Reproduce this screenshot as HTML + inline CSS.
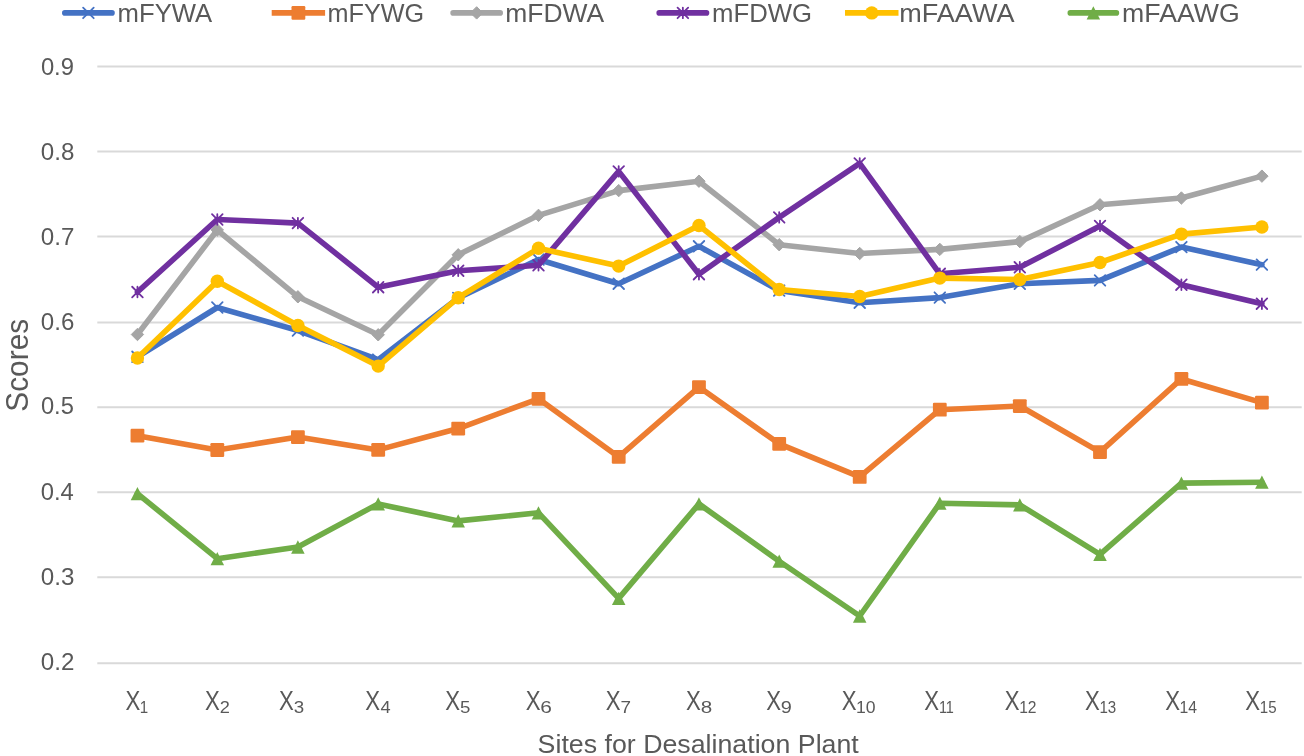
<!DOCTYPE html><html><head><meta charset="utf-8"><title>chart</title><style>html,body{margin:0;padding:0;background:#fff;overflow:hidden}svg{display:block;filter:blur(0.35px)}.t{filter:grayscale(1)}text,tspan{font-family:"Liberation Sans",sans-serif}</style></head><body>
<svg width="1304" height="756" viewBox="0 0 1304 756">
<rect width="1304" height="756" fill="#fff"/>
<line x1="97.3" y1="66.55" x2="1301.7" y2="66.55" stroke="#D9D9D9" stroke-width="2"/>
<line x1="97.3" y1="151.50" x2="1301.7" y2="151.50" stroke="#D9D9D9" stroke-width="2"/>
<line x1="97.3" y1="236.50" x2="1301.7" y2="236.50" stroke="#D9D9D9" stroke-width="2"/>
<line x1="97.3" y1="322.40" x2="1301.7" y2="322.40" stroke="#D9D9D9" stroke-width="2"/>
<line x1="97.3" y1="407.35" x2="1301.7" y2="407.35" stroke="#D9D9D9" stroke-width="2"/>
<line x1="97.3" y1="492.35" x2="1301.7" y2="492.35" stroke="#D9D9D9" stroke-width="2"/>
<line x1="97.3" y1="577.25" x2="1301.7" y2="577.25" stroke="#D9D9D9" stroke-width="2"/>
<line x1="97.3" y1="663.30" x2="1301.7" y2="663.30" stroke="#D9D9D9" stroke-width="2"/>
<text class="t" x="40.89" y="74.80" font-size="23.9" fill="#595959" textLength="33.08" lengthAdjust="spacingAndGlyphs">0.9</text>
<text class="t" x="40.87" y="159.75" font-size="23.9" fill="#595959" textLength="33.53" lengthAdjust="spacingAndGlyphs">0.8</text>
<text class="t" x="40.89" y="244.70" font-size="23.9" fill="#595959" textLength="33.57" lengthAdjust="spacingAndGlyphs">0.7</text>
<text class="t" x="40.86" y="329.55" font-size="23.9" fill="#595959" textLength="33.47" lengthAdjust="spacingAndGlyphs">0.6</text>
<text class="t" x="40.88" y="414.20" font-size="23.9" fill="#595959" textLength="32.96" lengthAdjust="spacingAndGlyphs">0.5</text>
<text class="t" x="40.73" y="500.30" font-size="23.9" fill="#595959" textLength="33.10" lengthAdjust="spacingAndGlyphs">0.4</text>
<text class="t" x="40.87" y="585.30" font-size="23.9" fill="#595959" textLength="33.58" lengthAdjust="spacingAndGlyphs">0.3</text>
<text class="t" x="40.89" y="670.30" font-size="23.9" fill="#595959" textLength="33.57" lengthAdjust="spacingAndGlyphs">0.2</text>
<text class="t" x="125.47" y="710.2" font-size="27" fill="#595959" textLength="14.8" lengthAdjust="spacingAndGlyphs">X</text>
<text class="t" x="139.87" y="712.8" font-size="16" fill="#595959" textLength="8.40" lengthAdjust="spacingAndGlyphs">1</text>
<text class="t" x="205.07" y="710.2" font-size="27" fill="#595959" textLength="14.8" lengthAdjust="spacingAndGlyphs">X</text>
<text class="t" x="219.79" y="712.8" font-size="16" fill="#595959" textLength="10.12" lengthAdjust="spacingAndGlyphs">2</text>
<text class="t" x="278.97" y="710.2" font-size="27" fill="#595959" textLength="14.8" lengthAdjust="spacingAndGlyphs">X</text>
<text class="t" x="293.67" y="712.8" font-size="16" fill="#595959" textLength="10.43" lengthAdjust="spacingAndGlyphs">3</text>
<text class="t" x="365.27" y="710.2" font-size="27" fill="#595959" textLength="14.8" lengthAdjust="spacingAndGlyphs">X</text>
<text class="t" x="380.43" y="712.8" font-size="16" fill="#595959" textLength="10.14" lengthAdjust="spacingAndGlyphs">4</text>
<text class="t" x="445.37" y="710.2" font-size="27" fill="#595959" textLength="14.8" lengthAdjust="spacingAndGlyphs">X</text>
<text class="t" x="459.97" y="712.8" font-size="16" fill="#595959" textLength="10.38" lengthAdjust="spacingAndGlyphs">5</text>
<text class="t" x="525.67" y="710.2" font-size="27" fill="#595959" textLength="14.8" lengthAdjust="spacingAndGlyphs">X</text>
<text class="t" x="540.24" y="712.8" font-size="16" fill="#595959" textLength="11.64" lengthAdjust="spacingAndGlyphs">6</text>
<text class="t" x="605.77" y="710.2" font-size="27" fill="#595959" textLength="14.8" lengthAdjust="spacingAndGlyphs">X</text>
<text class="t" x="620.44" y="712.8" font-size="16" fill="#595959" textLength="10.52" lengthAdjust="spacingAndGlyphs">7</text>
<text class="t" x="686.07" y="710.2" font-size="27" fill="#595959" textLength="14.8" lengthAdjust="spacingAndGlyphs">X</text>
<text class="t" x="700.72" y="712.8" font-size="16" fill="#595959" textLength="11.47" lengthAdjust="spacingAndGlyphs">8</text>
<text class="t" x="766.17" y="710.2" font-size="27" fill="#595959" textLength="14.8" lengthAdjust="spacingAndGlyphs">X</text>
<text class="t" x="780.80" y="712.8" font-size="16" fill="#595959" textLength="11.09" lengthAdjust="spacingAndGlyphs">9</text>
<text class="t" x="841.77" y="710.2" font-size="27" fill="#595959" textLength="14.8" lengthAdjust="spacingAndGlyphs">X</text>
<text class="t" x="855.97" y="712.8" font-size="16" fill="#595959" textLength="19.55" lengthAdjust="spacingAndGlyphs">10</text>
<text class="t" x="924.37" y="710.2" font-size="27" fill="#595959" textLength="14.8" lengthAdjust="spacingAndGlyphs">X</text>
<text class="t" x="938.90" y="712.8" font-size="16" fill="#595959" textLength="15.01" lengthAdjust="spacingAndGlyphs">11</text>
<text class="t" x="1004.77" y="710.2" font-size="27" fill="#595959" textLength="14.8" lengthAdjust="spacingAndGlyphs">X</text>
<text class="t" x="1019.13" y="712.8" font-size="16" fill="#595959" textLength="17.38" lengthAdjust="spacingAndGlyphs">12</text>
<text class="t" x="1085.07" y="710.2" font-size="27" fill="#595959" textLength="14.8" lengthAdjust="spacingAndGlyphs">X</text>
<text class="t" x="1099.47" y="712.8" font-size="16" fill="#595959" textLength="16.80" lengthAdjust="spacingAndGlyphs">13</text>
<text class="t" x="1165.27" y="710.2" font-size="27" fill="#595959" textLength="14.8" lengthAdjust="spacingAndGlyphs">X</text>
<text class="t" x="1179.62" y="712.8" font-size="16" fill="#595959" textLength="17.49" lengthAdjust="spacingAndGlyphs">14</text>
<text class="t" x="1245.37" y="710.2" font-size="27" fill="#595959" textLength="14.8" lengthAdjust="spacingAndGlyphs">X</text>
<text class="t" x="1259.77" y="712.8" font-size="16" fill="#595959" textLength="16.76" lengthAdjust="spacingAndGlyphs">15</text>
<text class="t" x="537.64" y="752.60" font-size="26" fill="#595959" textLength="321.15" lengthAdjust="spacingAndGlyphs">Sites for Desalination Plant</text>
<text class="t" transform="translate(27.80 411.71) rotate(-90)" x="0" y="0" font-size="31" fill="#595959" textLength="92.87" lengthAdjust="spacingAndGlyphs">Scores</text>
<polyline points="137.45,356.80 217.30,307.50 297.90,330.50 378.20,359.60 458.22,297.90 538.50,259.50 618.70,283.70 698.95,246.30 779.20,290.60 859.70,302.70 939.80,297.60 1019.80,283.80 1100.00,280.40 1181.40,247.10 1261.90,264.65" fill="none" stroke="#4472C4" stroke-width="5.6" stroke-linejoin="round" stroke-linecap="round"/>
<path d="M132.15 351.50L142.75 362.10M132.15 362.10L142.75 351.50" stroke="#4472C4" stroke-width="1.8" stroke-linecap="round" fill="none"/>
<path d="M212.00 302.20L222.60 312.80M212.00 312.80L222.60 302.20" stroke="#4472C4" stroke-width="1.8" stroke-linecap="round" fill="none"/>
<path d="M292.60 325.20L303.20 335.80M292.60 335.80L303.20 325.20" stroke="#4472C4" stroke-width="1.8" stroke-linecap="round" fill="none"/>
<path d="M372.90 354.30L383.50 364.90M372.90 364.90L383.50 354.30" stroke="#4472C4" stroke-width="1.8" stroke-linecap="round" fill="none"/>
<path d="M452.92 292.60L463.52 303.20M452.92 303.20L463.52 292.60" stroke="#4472C4" stroke-width="1.8" stroke-linecap="round" fill="none"/>
<path d="M533.20 254.20L543.80 264.80M533.20 264.80L543.80 254.20" stroke="#4472C4" stroke-width="1.8" stroke-linecap="round" fill="none"/>
<path d="M613.40 278.40L624.00 289.00M613.40 289.00L624.00 278.40" stroke="#4472C4" stroke-width="1.8" stroke-linecap="round" fill="none"/>
<path d="M693.65 241.00L704.25 251.60M693.65 251.60L704.25 241.00" stroke="#4472C4" stroke-width="1.8" stroke-linecap="round" fill="none"/>
<path d="M773.90 285.30L784.50 295.90M773.90 295.90L784.50 285.30" stroke="#4472C4" stroke-width="1.8" stroke-linecap="round" fill="none"/>
<path d="M854.40 297.40L865.00 308.00M854.40 308.00L865.00 297.40" stroke="#4472C4" stroke-width="1.8" stroke-linecap="round" fill="none"/>
<path d="M934.50 292.30L945.10 302.90M934.50 302.90L945.10 292.30" stroke="#4472C4" stroke-width="1.8" stroke-linecap="round" fill="none"/>
<path d="M1014.50 278.50L1025.10 289.10M1014.50 289.10L1025.10 278.50" stroke="#4472C4" stroke-width="1.8" stroke-linecap="round" fill="none"/>
<path d="M1094.70 275.10L1105.30 285.70M1094.70 285.70L1105.30 275.10" stroke="#4472C4" stroke-width="1.8" stroke-linecap="round" fill="none"/>
<path d="M1176.10 241.80L1186.70 252.40M1176.10 252.40L1186.70 241.80" stroke="#4472C4" stroke-width="1.8" stroke-linecap="round" fill="none"/>
<path d="M1256.60 259.35L1267.20 269.95M1256.60 269.95L1267.20 259.35" stroke="#4472C4" stroke-width="1.8" stroke-linecap="round" fill="none"/>
<polyline points="137.45,435.65 217.30,450.00 297.90,437.10 378.20,449.90 458.22,428.55 538.50,398.80 618.70,456.90 698.95,387.05 779.20,443.80 859.70,476.95 939.80,409.70 1019.80,406.05 1100.00,452.10 1181.40,378.95 1261.90,402.65" fill="none" stroke="#ED7D31" stroke-width="5.6" stroke-linejoin="round" stroke-linecap="butt"/>
<rect x="130.55" y="428.75" width="13.80" height="13.80" rx="1.2" fill="#ED7D31"/>
<rect x="210.40" y="443.10" width="13.80" height="13.80" rx="1.2" fill="#ED7D31"/>
<rect x="291.00" y="430.20" width="13.80" height="13.80" rx="1.2" fill="#ED7D31"/>
<rect x="371.30" y="443.00" width="13.80" height="13.80" rx="1.2" fill="#ED7D31"/>
<rect x="451.32" y="421.65" width="13.80" height="13.80" rx="1.2" fill="#ED7D31"/>
<rect x="531.60" y="391.90" width="13.80" height="13.80" rx="1.2" fill="#ED7D31"/>
<rect x="611.80" y="450.00" width="13.80" height="13.80" rx="1.2" fill="#ED7D31"/>
<rect x="692.05" y="380.15" width="13.80" height="13.80" rx="1.2" fill="#ED7D31"/>
<rect x="772.30" y="436.90" width="13.80" height="13.80" rx="1.2" fill="#ED7D31"/>
<rect x="852.80" y="470.05" width="13.80" height="13.80" rx="1.2" fill="#ED7D31"/>
<rect x="932.90" y="402.80" width="13.80" height="13.80" rx="1.2" fill="#ED7D31"/>
<rect x="1012.90" y="399.15" width="13.80" height="13.80" rx="1.2" fill="#ED7D31"/>
<rect x="1093.10" y="445.20" width="13.80" height="13.80" rx="1.2" fill="#ED7D31"/>
<rect x="1174.50" y="372.05" width="13.80" height="13.80" rx="1.2" fill="#ED7D31"/>
<rect x="1255.00" y="395.75" width="13.80" height="13.80" rx="1.2" fill="#ED7D31"/>
<polyline points="137.45,334.50 217.30,230.00 297.90,296.80 378.20,334.80 458.22,254.80 538.50,215.35 618.70,190.60 698.95,181.20 779.20,244.70 859.70,253.50 939.80,249.40 1019.80,241.60 1100.00,204.80 1181.40,198.00 1261.90,176.15" fill="none" stroke="#A5A5A5" stroke-width="5.6" stroke-linejoin="round" stroke-linecap="round"/>
<path d="M137.45 328.30L143.65 334.50L137.45 340.70L131.25 334.50Z" fill="#A5A5A5" stroke="#A5A5A5" stroke-width="1" stroke-linejoin="round"/>
<path d="M217.30 223.80L223.50 230.00L217.30 236.20L211.10 230.00Z" fill="#A5A5A5" stroke="#A5A5A5" stroke-width="1" stroke-linejoin="round"/>
<path d="M297.90 290.60L304.10 296.80L297.90 303.00L291.70 296.80Z" fill="#A5A5A5" stroke="#A5A5A5" stroke-width="1" stroke-linejoin="round"/>
<path d="M378.20 328.60L384.40 334.80L378.20 341.00L372.00 334.80Z" fill="#A5A5A5" stroke="#A5A5A5" stroke-width="1" stroke-linejoin="round"/>
<path d="M458.22 248.60L464.42 254.80L458.22 261.00L452.02 254.80Z" fill="#A5A5A5" stroke="#A5A5A5" stroke-width="1" stroke-linejoin="round"/>
<path d="M538.50 209.15L544.70 215.35L538.50 221.55L532.30 215.35Z" fill="#A5A5A5" stroke="#A5A5A5" stroke-width="1" stroke-linejoin="round"/>
<path d="M618.70 184.40L624.90 190.60L618.70 196.80L612.50 190.60Z" fill="#A5A5A5" stroke="#A5A5A5" stroke-width="1" stroke-linejoin="round"/>
<path d="M698.95 175.00L705.15 181.20L698.95 187.40L692.75 181.20Z" fill="#A5A5A5" stroke="#A5A5A5" stroke-width="1" stroke-linejoin="round"/>
<path d="M779.20 238.50L785.40 244.70L779.20 250.90L773.00 244.70Z" fill="#A5A5A5" stroke="#A5A5A5" stroke-width="1" stroke-linejoin="round"/>
<path d="M859.70 247.30L865.90 253.50L859.70 259.70L853.50 253.50Z" fill="#A5A5A5" stroke="#A5A5A5" stroke-width="1" stroke-linejoin="round"/>
<path d="M939.80 243.20L946.00 249.40L939.80 255.60L933.60 249.40Z" fill="#A5A5A5" stroke="#A5A5A5" stroke-width="1" stroke-linejoin="round"/>
<path d="M1019.80 235.40L1026.00 241.60L1019.80 247.80L1013.60 241.60Z" fill="#A5A5A5" stroke="#A5A5A5" stroke-width="1" stroke-linejoin="round"/>
<path d="M1100.00 198.60L1106.20 204.80L1100.00 211.00L1093.80 204.80Z" fill="#A5A5A5" stroke="#A5A5A5" stroke-width="1" stroke-linejoin="round"/>
<path d="M1181.40 191.80L1187.60 198.00L1181.40 204.20L1175.20 198.00Z" fill="#A5A5A5" stroke="#A5A5A5" stroke-width="1" stroke-linejoin="round"/>
<path d="M1261.90 169.95L1268.10 176.15L1261.90 182.35L1255.70 176.15Z" fill="#A5A5A5" stroke="#A5A5A5" stroke-width="1" stroke-linejoin="round"/>
<polyline points="137.45,292.05 217.30,219.50 297.90,223.10 378.20,287.20 458.22,270.70 538.50,265.30 618.70,171.40 698.95,274.20 779.20,217.40 859.70,163.40 939.80,273.80 1019.80,267.30 1100.00,225.90 1181.40,284.70 1261.90,303.70" fill="none" stroke="#7030A0" stroke-width="5.6" stroke-linejoin="round" stroke-linecap="round"/>
<path d="M132.15 286.75L142.75 297.35M132.15 297.35L142.75 286.75M137.45 286.75L137.45 297.35" stroke="#7030A0" stroke-width="1.8" stroke-linecap="round" fill="none"/>
<path d="M212.00 214.20L222.60 224.80M212.00 224.80L222.60 214.20M217.30 214.20L217.30 224.80" stroke="#7030A0" stroke-width="1.8" stroke-linecap="round" fill="none"/>
<path d="M292.60 217.80L303.20 228.40M292.60 228.40L303.20 217.80M297.90 217.80L297.90 228.40" stroke="#7030A0" stroke-width="1.8" stroke-linecap="round" fill="none"/>
<path d="M372.90 281.90L383.50 292.50M372.90 292.50L383.50 281.90M378.20 281.90L378.20 292.50" stroke="#7030A0" stroke-width="1.8" stroke-linecap="round" fill="none"/>
<path d="M452.92 265.40L463.52 276.00M452.92 276.00L463.52 265.40M458.22 265.40L458.22 276.00" stroke="#7030A0" stroke-width="1.8" stroke-linecap="round" fill="none"/>
<path d="M533.20 260.00L543.80 270.60M533.20 270.60L543.80 260.00M538.50 260.00L538.50 270.60" stroke="#7030A0" stroke-width="1.8" stroke-linecap="round" fill="none"/>
<path d="M613.40 166.10L624.00 176.70M613.40 176.70L624.00 166.10M618.70 166.10L618.70 176.70" stroke="#7030A0" stroke-width="1.8" stroke-linecap="round" fill="none"/>
<path d="M693.65 268.90L704.25 279.50M693.65 279.50L704.25 268.90M698.95 268.90L698.95 279.50" stroke="#7030A0" stroke-width="1.8" stroke-linecap="round" fill="none"/>
<path d="M773.90 212.10L784.50 222.70M773.90 222.70L784.50 212.10M779.20 212.10L779.20 222.70" stroke="#7030A0" stroke-width="1.8" stroke-linecap="round" fill="none"/>
<path d="M854.40 158.10L865.00 168.70M854.40 168.70L865.00 158.10M859.70 158.10L859.70 168.70" stroke="#7030A0" stroke-width="1.8" stroke-linecap="round" fill="none"/>
<path d="M934.50 268.50L945.10 279.10M934.50 279.10L945.10 268.50M939.80 268.50L939.80 279.10" stroke="#7030A0" stroke-width="1.8" stroke-linecap="round" fill="none"/>
<path d="M1014.50 262.00L1025.10 272.60M1014.50 272.60L1025.10 262.00M1019.80 262.00L1019.80 272.60" stroke="#7030A0" stroke-width="1.8" stroke-linecap="round" fill="none"/>
<path d="M1094.70 220.60L1105.30 231.20M1094.70 231.20L1105.30 220.60M1100.00 220.60L1100.00 231.20" stroke="#7030A0" stroke-width="1.8" stroke-linecap="round" fill="none"/>
<path d="M1176.10 279.40L1186.70 290.00M1176.10 290.00L1186.70 279.40M1181.40 279.40L1181.40 290.00" stroke="#7030A0" stroke-width="1.8" stroke-linecap="round" fill="none"/>
<path d="M1256.60 298.40L1267.20 309.00M1256.60 309.00L1267.20 298.40M1261.90 298.40L1261.90 309.00" stroke="#7030A0" stroke-width="1.8" stroke-linecap="round" fill="none"/>
<polyline points="137.45,357.95 217.30,281.20 297.90,325.50 378.20,366.10 458.22,297.70 538.50,248.30 618.70,266.10 698.95,225.50 779.20,289.50 859.70,296.50 939.80,278.10 1019.80,279.50 1100.00,262.50 1181.40,234.10 1261.90,226.95" fill="none" stroke="#FFC000" stroke-width="5.6" stroke-linejoin="round" stroke-linecap="butt"/>
<circle cx="137.45" cy="357.95" r="6.7" fill="#FFC000"/>
<circle cx="217.30" cy="281.20" r="6.7" fill="#FFC000"/>
<circle cx="297.90" cy="325.50" r="6.7" fill="#FFC000"/>
<circle cx="378.20" cy="366.10" r="6.7" fill="#FFC000"/>
<circle cx="458.22" cy="297.70" r="6.7" fill="#FFC000"/>
<circle cx="538.50" cy="248.30" r="6.7" fill="#FFC000"/>
<circle cx="618.70" cy="266.10" r="6.7" fill="#FFC000"/>
<circle cx="698.95" cy="225.50" r="6.7" fill="#FFC000"/>
<circle cx="779.20" cy="289.50" r="6.7" fill="#FFC000"/>
<circle cx="859.70" cy="296.50" r="6.7" fill="#FFC000"/>
<circle cx="939.80" cy="278.10" r="6.7" fill="#FFC000"/>
<circle cx="1019.80" cy="279.50" r="6.7" fill="#FFC000"/>
<circle cx="1100.00" cy="262.50" r="6.7" fill="#FFC000"/>
<circle cx="1181.40" cy="234.10" r="6.7" fill="#FFC000"/>
<circle cx="1261.90" cy="226.95" r="6.7" fill="#FFC000"/>
<polyline points="137.45,493.60 217.30,558.70 297.90,547.00 378.20,503.90 458.22,520.90 538.50,512.80 618.70,598.40 698.95,503.90 779.20,561.20 859.70,616.00 939.80,503.20 1019.80,504.90 1100.00,554.30 1181.40,483.10 1261.90,482.20" fill="none" stroke="#70AD47" stroke-width="5.6" stroke-linejoin="round" stroke-linecap="round"/>
<path d="M137.45 486.95L144.20 500.25L130.70 500.25Z" fill="#70AD47"/>
<path d="M217.30 552.05L224.05 565.35L210.55 565.35Z" fill="#70AD47"/>
<path d="M297.90 540.35L304.65 553.65L291.15 553.65Z" fill="#70AD47"/>
<path d="M378.20 497.25L384.95 510.55L371.45 510.55Z" fill="#70AD47"/>
<path d="M458.22 514.25L464.97 527.55L451.47 527.55Z" fill="#70AD47"/>
<path d="M538.50 506.15L545.25 519.45L531.75 519.45Z" fill="#70AD47"/>
<path d="M618.70 591.75L625.45 605.05L611.95 605.05Z" fill="#70AD47"/>
<path d="M698.95 497.25L705.70 510.55L692.20 510.55Z" fill="#70AD47"/>
<path d="M779.20 554.55L785.95 567.85L772.45 567.85Z" fill="#70AD47"/>
<path d="M859.70 609.35L866.45 622.65L852.95 622.65Z" fill="#70AD47"/>
<path d="M939.80 496.55L946.55 509.85L933.05 509.85Z" fill="#70AD47"/>
<path d="M1019.80 498.25L1026.55 511.55L1013.05 511.55Z" fill="#70AD47"/>
<path d="M1100.00 547.65L1106.75 560.95L1093.25 560.95Z" fill="#70AD47"/>
<path d="M1181.40 476.45L1188.15 489.75L1174.65 489.75Z" fill="#70AD47"/>
<path d="M1261.90 475.55L1268.65 488.85L1255.15 488.85Z" fill="#70AD47"/>
<line x1="64.80" y1="12.9" x2="112.00" y2="12.9" stroke="#4472C4" stroke-width="5.6" stroke-linecap="round"/>
<path d="M83.10 7.60L93.70 18.20M83.10 18.20L93.70 7.60" stroke="#4472C4" stroke-width="1.8" stroke-linecap="round" fill="none"/>
<line x1="271.70" y1="12.9" x2="325.10" y2="12.9" stroke="#ED7D31" stroke-width="5.6"/>
<rect x="291.50" y="6.00" width="13.80" height="13.80" rx="1.2" fill="#ED7D31"/>
<line x1="453.10" y1="12.9" x2="500.20" y2="12.9" stroke="#A5A5A5" stroke-width="5.6" stroke-linecap="round"/>
<path d="M476.65 6.70L482.85 12.90L476.65 19.10L470.45 12.90Z" fill="#A5A5A5" stroke="#A5A5A5" stroke-width="1" stroke-linejoin="round"/>
<line x1="659.20" y1="12.9" x2="706.50" y2="12.9" stroke="#7030A0" stroke-width="5.6" stroke-linecap="round"/>
<path d="M677.55 7.60L688.15 18.20M677.55 18.20L688.15 7.60M682.85 7.60L682.85 18.20" stroke="#7030A0" stroke-width="1.8" stroke-linecap="round" fill="none"/>
<line x1="845.00" y1="12.9" x2="898.50" y2="12.9" stroke="#FFC000" stroke-width="5.6"/>
<circle cx="871.75" cy="12.90" r="6.7" fill="#FFC000"/>
<line x1="1070.30" y1="12.9" x2="1116.40" y2="12.9" stroke="#70AD47" stroke-width="5.6" stroke-linecap="round"/>
<path d="M1093.35 6.25L1100.10 19.55L1086.60 19.55Z" fill="#70AD47"/>
<text class="t" x="117.61" y="21.60" font-size="26.2" fill="#595959" textLength="94.59" lengthAdjust="spacingAndGlyphs">mFYWA</text>
<text class="t" x="327.53" y="21.60" font-size="26.2" fill="#595959" textLength="96.55" lengthAdjust="spacingAndGlyphs">mFYWG</text>
<text class="t" x="505.31" y="21.60" font-size="26.2" fill="#595959" textLength="98.89" lengthAdjust="spacingAndGlyphs">mFDWA</text>
<text class="t" x="712.08" y="21.60" font-size="26.2" fill="#595959" textLength="100.04" lengthAdjust="spacingAndGlyphs">mFDWG</text>
<text class="t" x="899.32" y="21.60" font-size="26.2" fill="#595959" textLength="115.12" lengthAdjust="spacingAndGlyphs">mFAAWA</text>
<text class="t" x="1122.14" y="21.60" font-size="26.2" fill="#595959" textLength="117.53" lengthAdjust="spacingAndGlyphs">mFAAWG</text>
</svg></body></html>
